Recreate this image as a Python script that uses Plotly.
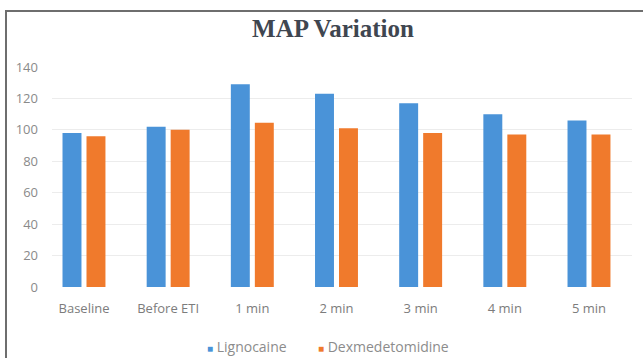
import plotly.graph_objects as go

# Mean arterial pressure at each time point
time_points = ["Baseline", "Before ETI", "1 min", "2 min", "3 min", "4 min", "5 min"]
lignocaine = [98, 102, 129, 123, 117, 110, 106]
dexmedetomidine = [96, 100, 104.5, 101, 98, 97, 97]
y_ticks = [0, 20, 40, 60, 80, 100, 120, 140]
series_names = ["Lignocaine", "Dexmedetomidine"]

BLUE = "#4a93d8"
ORANGE = "#f07a2c"

fig = go.Figure()
fig.add_trace(go.Bar(name=series_names[0], x=time_points, y=lignocaine,
                     marker=dict(color=BLUE, line=dict(width=0))))
fig.add_trace(go.Bar(name=series_names[1], x=time_points, y=dexmedetomidine,
                     marker=dict(color=ORANGE, line=dict(width=0))))

W, H = 644, 359
ml, mr, mt, mb = 52, 12, 67, 72
pw, ph = W - ml - mr, H - mt - mb


def px_x(x):
    return (x - ml) / pw


def px_y(y):
    return (H - mb - y) / ph


# hand-placed key below the axis, small squares next to the series names
key = []
for name, color, left in [(series_names[0], BLUE, 205), (series_names[1], ORANGE, 316)]:
    key.append(dict(
        xref="paper", yref="paper", x=px_x(left), y=px_y(346),
        xanchor="left", yanchor="middle", showarrow=False,
        text=f"<span style='color:{color};font-size:10px'>■</span> {name}",
        font=dict(family="Open Sans", size=14, color="#8c8c8c"),
    ))

# frame along the top and left edges of the chart area
frame = dict(
    type="path", xref="paper", yref="paper",
    path=(f"M {px_x(6)},{px_y(358)} L {px_x(6)},{px_y(11)} "
          f"L {px_x(643)},{px_y(11)}"),
    line=dict(color="#6e6e6e", width=2),
)

fig.update_layout(
    width=W, height=H,
    margin=dict(l=ml, r=mr, t=mt, b=mb),
    paper_bgcolor="white", plot_bgcolor="white",
    barmode="group", bargap=0.43, bargroupgap=0.21,
    showlegend=False,
    title=dict(text="<b>MAP Variation</b>", xref="container", x=333 / W,
               xanchor="center", y=1 - 28 / H, yanchor="middle",
               font=dict(family="Liberation Serif", size=25, color="#3f4650")),
    font=dict(family="Open Sans", size=13, color="#808080"),
    xaxis=dict(showgrid=False, showline=False, ticks="", zeroline=False,
               range=[-0.38, 6.511], ticklabelstandoff=12,
               tickfont=dict(size=13, color="#7c7c7c")),
    yaxis=dict(range=[0, 140], tickvals=y_ticks, showgrid=True,
               gridcolor="#ececec", gridwidth=1, zeroline=False,
               showline=False, ticks="", ticklabelstandoff=13,
               tickfont=dict(size=13, color="#8a8a8a")),
    annotations=key,
    shapes=[frame],
)

fig.write_html("out.html", config={"displayModeBar": False})
